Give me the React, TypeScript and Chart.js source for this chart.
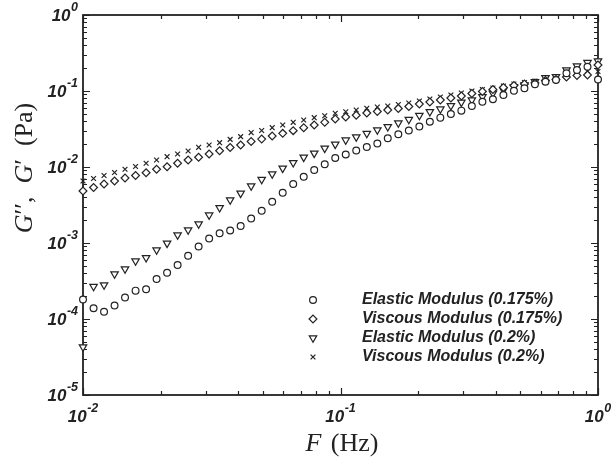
import React, { useEffect, useRef } from 'react';
import { Chart, registerables } from 'chart.js';
import { drawPoint } from 'chart.js/helpers';

Chart.register(...registerables);

const frequency = [
  0.01, 0.01099, 0.01207, 0.01326, 0.01456, 0.016, 0.01758, 0.01931, 0.02121, 0.0233,
  0.0256, 0.02812, 0.03089, 0.03393, 0.03728, 0.04095, 0.04498, 0.04942, 0.05429, 0.05964,
  0.06551, 0.07197, 0.07906, 0.08685, 0.09541, 0.1048, 0.1151, 0.1265, 0.139, 0.1526,
  0.1677, 0.1842, 0.2024, 0.2223, 0.2442, 0.2683, 0.2947, 0.3237, 0.3557, 0.3907,
  0.4292, 0.4715, 0.518, 0.569, 0.6251, 0.6867, 0.7543, 0.8286, 0.9103, 1.0,
];

const elastic0175 = [
  1.806e-4, 1.383e-4, 1.247e-4, 1.507e-4, 1.919e-4, 2.36e-4, 2.46e-4, 3.36e-4, 4.06e-4, 5.14e-4,
  6.81e-4, 8.99e-4, 1.146e-3, 1.342e-3, 1.459e-3, 1.675e-3, 2.1e-3, 2.66e-3, 3.49e-3, 4.59e-3,
  5.97e-3, 7.45e-3, 9.14e-3, 0.01086, 0.01313, 0.01459, 0.01648, 0.01833, 0.0204, 0.0239,
  0.027, 0.0302, 0.0341, 0.0394, 0.0446, 0.0498, 0.0551, 0.0635, 0.0723, 0.0778,
  0.0886, 0.1009, 0.1086, 0.1225, 0.1325, 0.1395, 0.171, 0.1889, 0.2089, 0.1416,
];

const viscous0175 = [
  4.83e-3, 5.37e-3, 5.97e-3, 6.55e-3, 7.16e-3, 7.73e-3, 8.41e-3, 9.33e-3, 0.01009, 0.01119,
  0.01236, 0.01342, 0.01483, 0.01637, 0.01807, 0.01946, 0.0217, 0.0233, 0.0256, 0.0277,
  0.0301, 0.0329, 0.0357, 0.0387, 0.0428, 0.0455, 0.0479, 0.0514, 0.0537, 0.0562,
  0.0589, 0.0625, 0.0675, 0.0716, 0.0762, 0.0809, 0.0859, 0.0927, 0.0985, 0.1047,
  0.1112, 0.1181, 0.1236, 0.1274, 0.1375, 0.1416, 0.1528, 0.16, 0.1625, 0.22,
];

const elastic02 = [
  4.28e-5, 2.68e-4, 2.8e-4, 3.91e-4, 4.55e-4, 5.8e-4, 6.41e-4, 8.09e-4, 9.91e-4, 1.274e-3,
  1.483e-3, 1.778e-3, 2.33e-3, 2.91e-3, 3.68e-3, 4.51e-3, 5.62e-3, 6.85e-3, 8.09e-3, 9.61e-3,
  0.0114, 0.01342, 0.01514, 0.01762, 0.0199, 0.0226, 0.0248, 0.0276, 0.0307, 0.0339,
  0.0379, 0.0422, 0.0476, 0.0534, 0.058, 0.0641, 0.071, 0.0762, 0.0841, 0.0933,
  0.1031, 0.114, 0.12, 0.1325, 0.1496, 0.1542, 0.1889, 0.2133, 0.2371, 0.2483,
];

const viscous02 = [
  6.55e-3, 7.06e-3, 7.73e-3, 8.47e-3, 9.33e-3, 0.01016, 0.01119, 0.01236, 0.01368, 0.01483,
  0.01624, 0.01816, 0.01946, 0.0209, 0.0231, 0.0251, 0.0284, 0.0302, 0.0329, 0.0357,
  0.0387, 0.0415, 0.0446, 0.0473, 0.0509, 0.0534, 0.0562, 0.0592, 0.0616, 0.0635,
  0.0664, 0.0695, 0.0738, 0.0785, 0.0834, 0.0886, 0.0941, 0.1, 0.1047, 0.1095,
  0.1164, 0.1236, 0.1294, 0.1355, 0.1439, 0.1507, 0.1625, 0.1778, 0.1834, 0.1806,
];

const seriesLabels = [
  'Elastic Modulus (0.175%)',
  'Viscous Modulus (0.175%)',
  'Elastic Modulus (0.2%)',
  'Viscous Modulus (0.2%)',
];

const xTickExponents = [-2, -1, 0];
const yTickExponents = [0, -1, -2, -3, -4, -5];

const INK = '#222';
const TICK_FONT = 'bold italic 17px "Liberation Sans", Arial, sans-serif';
const EXP_FONT = 'bold italic 12.5px "Liberation Sans", Arial, sans-serif';
const SERIF = '"Liberation Serif", "DejaVu Serif", serif';

function expText(e: number) {
  return e < 0 ? '-' + Math.abs(e) : String(e);
}

function drawPower(ctx: CanvasRenderingContext2D, e: number, x: number, y: number, align: 'right' | 'center') {
  ctx.font = TICK_FONT;
  const w10 = ctx.measureText('10').width;
  ctx.font = EXP_FONT;
  const ex = expText(e);
  const wExp = ctx.measureText(ex).width;
  const total = w10 + wExp + 0.5;
  const x0 = align === 'right' ? x - total : x - total / 2;
  ctx.textAlign = 'left';
  ctx.textBaseline = 'middle';
  ctx.font = TICK_FONT;
  ctx.fillText('10', x0, y);
  ctx.font = EXP_FONT;
  ctx.fillText(ex, x0 + w10 + 0.5, y - 8);
}

const framePlugin = {
  id: 'frame',
  beforeDatasetsDraw(chart: any) {
    const { ctx, chartArea } = chart;
    const { left, right, top, bottom } = chartArea;
    const xs = chart.scales.x;
    const ys = chart.scales.y;
    ctx.save();
    ctx.strokeStyle = INK;
    ctx.lineWidth = 1.2;
    ctx.beginPath();
    for (let e = -2; e <= 0; e++) {
      for (let m = 1; m <= 9; m++) {
        const v = m * Math.pow(10, e);
        if (v > 1.0001) break;
        const px = Math.round(xs.getPixelForValue(v)) + 0.5;
        const len = m === 1 ? 7 : 4;
        ctx.moveTo(px, bottom);
        ctx.lineTo(px, bottom - len);
        ctx.moveTo(px, top);
        ctx.lineTo(px, top + len);
      }
    }
    for (let e = -5; e <= 0; e++) {
      for (let m = 1; m <= 9; m++) {
        const v = m * Math.pow(10, e);
        if (v > 1.0001) break;
        const py = Math.round(ys.getPixelForValue(v)) + 0.5;
        const len = m === 1 ? 7 : 4;
        ctx.moveTo(left, py);
        ctx.lineTo(left + len, py);
        ctx.moveTo(right, py);
        ctx.lineTo(right - len, py);
      }
    }
    ctx.stroke();
    ctx.lineWidth = 1.8;
    ctx.strokeRect(left, top, right - left, bottom - top);

    ctx.fillStyle = INK;
    yTickExponents.forEach((e) => {
      drawPower(ctx, e, left - 5, ys.getPixelForValue(Math.pow(10, e)) + 1, 'right');
    });
    xTickExponents.forEach((e) => {
      drawPower(ctx, e, xs.getPixelForValue(Math.pow(10, e)), bottom + 22, 'center');
    });

    // x title: F (Hz)
    ctx.textBaseline = 'alphabetic';
    ctx.textAlign = 'left';
    const italic = 'italic 26px ' + SERIF;
    const roman = '26px ' + SERIF;
    ctx.font = italic;
    const wF = ctx.measureText('F').width;
    ctx.font = roman;
    const wHz = ctx.measureText(' (Hz)').width;
    const cx = (left + right) / 2;
    const bx = cx - (wF + wHz) / 2;
    ctx.font = italic;
    ctx.fillText('F', bx, 451);
    ctx.font = roman;
    ctx.fillText(' (Hz)', bx + wF + 3, 451);

    // y title: G'', G' (Pa)
    ctx.save();
    ctx.translate(32, 168);
    ctx.rotate(-Math.PI / 2);
    const parts: [string, string][] = [
      ['G', italic],
      ['\u2032\u2032', roman],
      [',  ', roman],
      ['G', italic],
      ['\u2032', roman],
      ['  (Pa)', roman],
    ];
    let tw = 0;
    parts.forEach(([t, f]) => {
      ctx.font = f;
      tw += ctx.measureText(t).width;
    });
    let px = -tw / 2;
    parts.forEach(([t, f]) => {
      ctx.font = f;
      ctx.fillText(t, px, 0);
      px += ctx.measureText(t).width;
    });
    ctx.restore();
    ctx.restore();
  },
  afterDatasetsDraw(chart: any) {
    const { ctx } = chart;
    ctx.save();
    const rows = [300, 319, 338, 357];
    chart.data.datasets.forEach((ds: any, i: number) => {
      const y = rows[i];
      const meta = chart.getDatasetMeta(i);
      const el = meta.data[0];
      if (el) {
        const opts = el.options;
        ctx.strokeStyle = INK;
        ctx.fillStyle = '#fff';
        ctx.lineWidth = opts.borderWidth;
        drawPoint(ctx, { pointStyle: opts.pointStyle, rotation: opts.rotation, radius: opts.radius, borderWidth: opts.borderWidth }, 313, y);
      }
      ctx.fillStyle = INK;
      ctx.font = 'bold italic 16px "Liberation Sans", Arial, sans-serif';
      ctx.textAlign = 'left';
      ctx.textBaseline = 'middle';
      ctx.fillText(ds.label, 362, y);
    });
    ctx.restore();
  },
};

export default function App() {
  const ref = useRef<HTMLCanvasElement | null>(null);
  useEffect(() => {
    if (!ref.current) return;
    const mk = (data: number[]) => frequency.map((f, i) => ({ x: f, y: data[i] }));
    const base = {
      showLine: false,
      borderColor: INK,
      backgroundColor: '#fff',
      borderWidth: 1.2,
      clip: false as any,
    };
    const chart = new Chart(ref.current, {
      type: 'scatter',
      data: {
        datasets: [
          { ...base, label: seriesLabels[0], data: mk(elastic0175), pointStyle: 'circle', pointRadius: 3.4 },
          { ...base, label: seriesLabels[1], data: mk(viscous0175), pointStyle: 'rectRot', pointRadius: 3.9 },
          { ...base, label: seriesLabels[2], data: mk(elastic02), pointStyle: 'triangle', pointRadius: 4.3, rotation: 180 },
          { ...base, label: seriesLabels[3], data: mk(viscous02), pointStyle: 'crossRot', pointRadius: 3.4 },
        ],
      },
      options: {
        animation: false,
        responsive: false,
        maintainAspectRatio: false,
        layout: { padding: { left: 83, right: 15, top: 15, bottom: 68 } },
        plugins: { legend: { display: false }, tooltip: { enabled: false } },
        scales: {
          x: { type: 'logarithmic', min: 0.01, max: 1, display: false },
          y: { type: 'logarithmic', min: 1e-5, max: 1, display: false },
        },
      },
      plugins: [framePlugin],
    });
    return () => chart.destroy();
  }, []);
  return (
    <div style={{ position: 'fixed', left: 0, top: 0, width: 613, height: 463, background: '#fff' }}>
      <canvas ref={ref} width={613} height={463} style={{ width: 613, height: 463 }} />
    </div>
  );
}
